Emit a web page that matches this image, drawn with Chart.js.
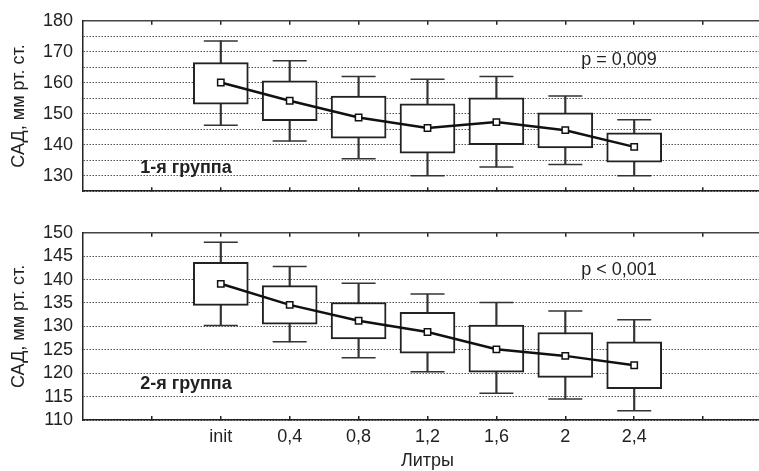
<!DOCTYPE html>
<html>
<head>
<meta charset="utf-8">
<script src="https://cdn.jsdelivr.net/npm/chart.js@4.4.0/dist/chart.umd.min.js"></script>
<style>
html, body { margin: 0; padding: 0; background: #fff; overflow: hidden; }
#wrap { position: relative; width: 759px; height: 471px; overflow: hidden; }
#c1 { position: absolute; left: 0; top: 0; }
#c2 { position: absolute; left: 0; top: 212px; }
</style>
</head>
<body>
<div id="wrap">
  <canvas id="c1" width="772" height="212"></canvas>
  <canvas id="c2" width="772" height="259"></canvas>
</div>
<script>
// категории (литры)
var categories = ['init', '0,4', '0,8', '1,2', '1,6', '2', '2,4'];

// 1-я группа
var g1Mean        = [160.1, 154.2, 148.8, 145.4, 147.3, 144.7, 139.3];
var g1BoxHigh     = [166.5, 160.6, 155.7, 153.2, 155.1, 150.3, 143.8];
var g1BoxLow      = [153.1, 147.8, 142.1, 137.3, 140.0, 139.0, 134.4];
var g1WhiskerHigh = [173.5, 167.1, 162.0, 161.1, 162.0, 155.7, 148.1];
var g1WhiskerLow  = [146.3, 141.2, 135.5, 130.0, 132.8, 133.6, 130.0];

// 2-я группа
var g2Mean        = [139.1, 134.6, 131.2, 128.8, 125.1, 123.7, 121.7];
var g2BoxHigh     = [143.7, 138.7, 135.1, 133.0, 130.3, 128.7, 126.7];
var g2BoxLow      = [134.5, 130.5, 127.3, 124.3, 120.2, 119.1, 116.7];
var g2WhiskerHigh = [148.0, 142.8, 139.2, 136.9, 135.1, 133.3, 131.4];
var g2WhiskerLow  = [130.2, 126.7, 123.3, 120.3, 115.7, 114.5, 112.0];

// подписи оси Y
var g1YLabels = [130, 140, 150, 160, 170, 180];
var g2YLabels = [110, 115, 120, 125, 130, 135, 140, 145, 150];

var xTickValues = [-1, 0, 1, 2, 3, 4, 5, 6, 7];
var FONT = "'Liberation Sans', Arial, sans-serif";
var INK = '#222';

function boxData(low, high) {
    return categories.map(function (c, i) { return { x: i, y: [low[i], high[i]] }; });
}
function pointData(vals) {
    return categories.map(function (c, i) { return { x: i, y: vals[i] }; });
}

// текстовые подписи внутри графика
function notesPlugin(notes) {
    return {
        id: 'notes',
        afterDatasetsDraw: function (chart) {
            var ctx = chart.ctx;
            ctx.save();
            ctx.fillStyle = INK;
            ctx.textBaseline = 'middle';
            ctx.textAlign = 'left';
            notes.forEach(function (n) {
                ctx.font = (n.bold ? 'bold ' : '') + n.size + 'px ' + FONT;
                ctx.fillText(n.text, chart.scales.x.getPixelForValue(n.x), chart.scales.y.getPixelForValue(n.y));
            });
            ctx.restore();
        }
    };
}

function makePanel(id, p) {
    var tickSetter = function (s) { s.ticks = xTickValues.map(function (v) { return { value: v }; }); };
    return new Chart(document.getElementById(id), {
        data: {
            datasets: [
                {
                    type: 'line', order: 0,
                    data: pointData(p.mean),
                    borderColor: '#111', borderWidth: 2.5,
                    pointStyle: 'rect', pointRadius: 4.5,
                    pointBackgroundColor: '#fff', pointBorderColor: '#111', pointBorderWidth: 1.5
                },
                {
                    type: 'bar', order: 1, grouped: false,
                    data: boxData(p.boxLow, p.boxHigh),
                    backgroundColor: '#fff', borderColor: INK, borderWidth: 2,
                    borderSkipped: false, barThickness: 55
                },
                {
                    type: 'scatter', order: 2,
                    data: pointData(p.whiskerHigh).concat(pointData(p.whiskerLow)),
                    pointStyle: 'line', pointRadius: 17, borderColor: '#333', borderWidth: 1.5,
                    showLine: false
                },
                {
                    type: 'bar', order: 3, grouped: false,
                    data: boxData(p.whiskerLow, p.whiskerHigh),
                    backgroundColor: '#333', borderWidth: 0, barThickness: 1.5
                }
            ]
        },
        options: {
            responsive: false,
            animation: false,
            devicePixelRatio: 1,
            events: [],
            layout: { padding: 0, autoPadding: false },
            plugins: { legend: { display: false }, tooltip: { enabled: false } },
            scales: {
                x: {
                    type: 'linear', position: 'bottom', min: -2, max: 8, offset: false,
                    afterBuildTicks: tickSetter,
                    afterFit: function (s) { s.height = p.bottomH; },
                    grid: { drawOnChartArea: false, tickLength: -4, color: INK, lineWidth: 1.5, offset: false },
                    border: { color: INK, width: 1.5 },
                    ticks: {
                        display: p.showX, padding: 10, autoSkip: false, maxRotation: 0,
                        color: INK, font: { family: FONT, size: 18 },
                        callback: function (v) { return categories[v] !== undefined ? categories[v] : ''; }
                    },
                    title: {
                        display: p.showX, text: 'Литры', color: INK,
                        font: { family: FONT, size: 18, lineHeight: 1 }, padding: { top: 0, bottom: 1 }
                    }
                },
                x2: {
                    type: 'linear', position: 'top', min: -2, max: 8, offset: false,
                    afterBuildTicks: tickSetter,
                    afterFit: function (s) { s.height = p.topH; },
                    grid: { drawOnChartArea: false, tickLength: -4, color: INK, lineWidth: 1.5, offset: false },
                    border: { color: '#444', width: 1.5 },
                    ticks: { display: false }
                },
                y: {
                    min: p.yMin, max: p.yMax,
                    afterFit: function (s) { s.width = 83; },
                    grid: { color: '#555', lineWidth: 1, drawTicks: false },
                    border: { color: INK, width: 1.5, dash: [1.5, 1.5] },
                    ticks: {
                        stepSize: 5, padding: 10, autoSkip: false, color: INK, font: { family: FONT, size: 18 },
                        callback: function (v) { return p.yLabels.indexOf(v) >= 0 ? String(v) : ''; }
                    },
                    title: {
                        display: true, text: 'САД, мм рт. ст.', color: INK,
                        font: { family: FONT, size: 18 }, padding: { top: 8, bottom: 0 }
                    }
                }
            }
        },
        plugins: [notesPlugin(p.notes)]
    });
}

makePanel('c1', {
    mean: g1Mean, boxLow: g1BoxLow, boxHigh: g1BoxHigh,
    whiskerLow: g1WhiskerLow, whiskerHigh: g1WhiskerHigh,
    yMin: 125, yMax: 180, yLabels: g1YLabels,
    topH: 20, bottomH: 6, showX: false,
    notes: [
        { text: '1-я группа', x: -1.17, y: 132.4, size: 18, bold: true },
        { text: 'p = 0,009', x: 5.23, y: 167.4, size: 18, bold: false }
    ]
});

makePanel('c2', {
    mean: g2Mean, boxLow: g2BoxLow, boxHigh: g2BoxHigh,
    whiskerLow: g2WhiskerLow, whiskerHigh: g2WhiskerHigh,
    yMin: 110, yMax: 150, yLabels: g2YLabels,
    topH: 10, bottomH: 51, showX: true,
    notes: [
        { text: '2-я группа', x: -1.17, y: 117.7, size: 18, bold: true },
        { text: 'p < 0,001', x: 5.23, y: 142.0, size: 18, bold: false }
    ]
});
</script>
</body>
</html>
